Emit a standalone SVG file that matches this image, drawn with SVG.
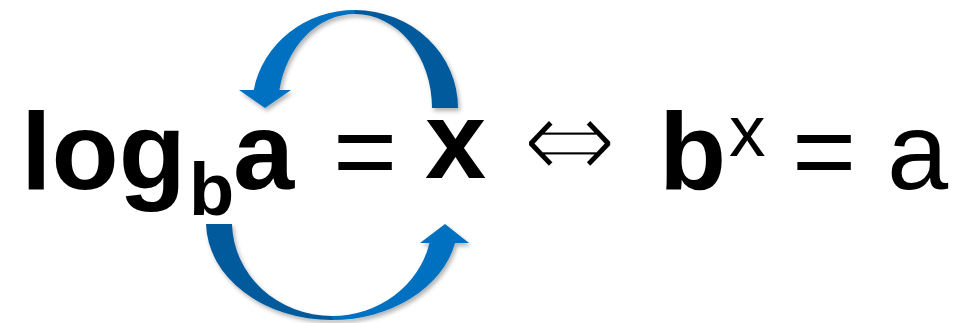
<svg xmlns="http://www.w3.org/2000/svg" width="966" height="323" viewBox="0 0 966 323">
<style>
.b{font-family:"Liberation Sans",Arial,sans-serif;font-weight:bold;fill:#000}
.r{font-family:"Liberation Sans",Arial,sans-serif;font-weight:normal;fill:#000}
.s{font-family:"DejaVu Sans",sans-serif;fill:#000;stroke:#fff;stroke-width:4;stroke-linejoin:miter}
.front{fill:#0070C0}
.back{fill:#035A9C}
</style>
<defs>
<filter id="sh" x="-10%" y="-10%" width="130%" height="130%">
<feDropShadow dx="2" dy="3" stdDeviation="2" flood-color="#000" flood-opacity="0.3"/>
</filter>
</defs>
<rect width="966" height="323" fill="#fff"/>
<g id="connectors" filter="url(#sh)">
<g id="arrow-top">
<path class="back" d="M355 10 A103 98 0 0 1 458 108 L432 108 A77 94 0 0 0 355 14 Z"/>
<path class="front" d="M355 10 A103 98 0 0 0 253.7 90 L239 90 L265 108 L291 90 L279.4 90 A77 94 0 0 1 355 14 Z"/>
</g>
<g id="arrow-bottom">
<path class="back" d="M206 224 A126 98 0 0 0 332 320 L332 316 A100 94 0 0 1 232 224 Z"/>
<path class="front" d="M332 320 A126 98 0 0 0 455.1 243 L469 243 L445 224 L420 243 L429.5 243 A100 94 0 0 1 332 316 Z"/>
</g>
</g>
<g id="log-side">
<text class="b" x="21" y="189" font-size="110">log</text>
<text class="b" x="189" y="215" font-size="74">b</text>
<text class="b" x="233" y="189" font-size="110">a</text>
<text class="r" x="333" y="188" font-size="110">=</text>
<text class="b" x="425" y="178" font-size="110">x</text>
</g>
<g id="iff">
<text class="s" x="0" y="0" font-size="100" transform="translate(521 180.5) scale(1.16 1.2)">⇔</text>
</g>
<g id="exp-side">
<text class="b" x="659" y="189" font-size="110">b</text>
<text class="r" x="729" y="156" font-size="73">x</text>
<text class="r" x="792" y="188" font-size="110">=</text>
<text class="r" x="887" y="189" font-size="110">a</text>
</g>
</svg>
